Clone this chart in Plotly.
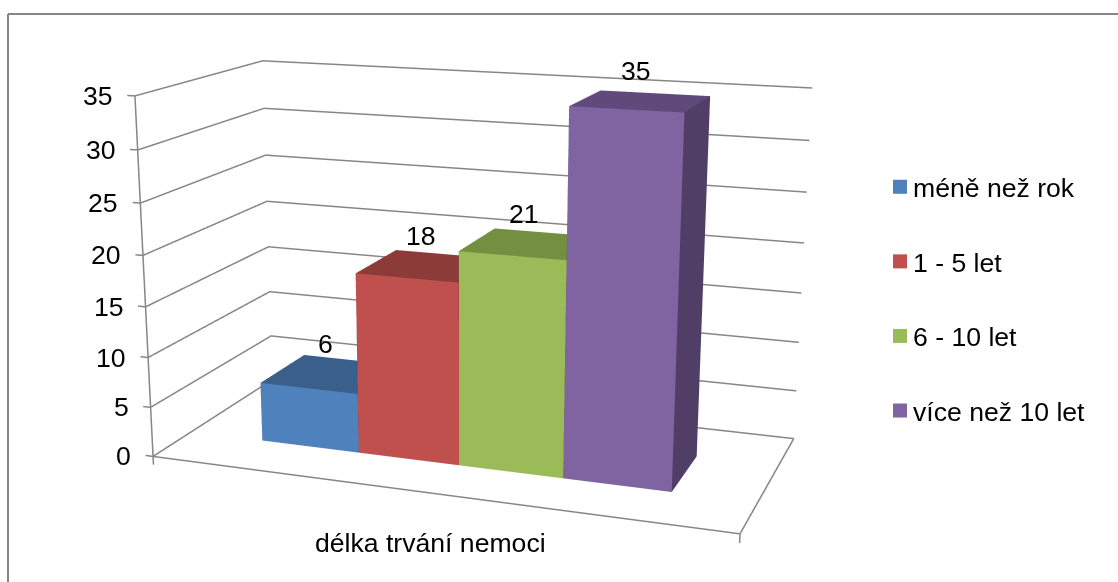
import plotly.graph_objects as go

names = ["méně než rok", "1 - 5 let", "6 - 10 let", "více než 10 let"]
values = [6, 18, 21, 35]
front = ["#4F81BD", "#C0504D", "#9BBB59", "#8064A2"]
top = ["#3A5F8B", "#8D3B39", "#729040", "#604A7B"]
side = ["#325277", "#7A3230", "#627C37", "#503E66"]
zticks = [0, 5, 10, 15, 20, 25, 30, 35]
axis_title = "délka trvání nemoci"

W, PAGE_H = 1118, 582
OFF, FIG_H, SCENE_W = 416, 1490, 938   # the camera needs an off-centre, tall viewport
def px(x): return x / W
def py(y): return 1 - (y + OFF) / FIG_H

X0, BW, Y0, Y1 = 0.1375, 0.1811, 0.2954, 0.6814   # bar block within the floor
GR = "#868686"
SIZE = 26.6
tris = [(0,1,5),(0,5,4),(4,5,6),(4,6,7),(1,2,6),(1,6,5),(0,4,7),(0,7,3),(3,7,6),(3,6,2),(0,1,2),(0,2,3)]

fig = go.Figure()
for i, (n, v) in enumerate(zip(names, values)):
    a, b = X0 + i * BW, X0 + (i + 1) * BW
    fig.add_trace(go.Mesh3d(
        x=[a,b,b,a,a,b,b,a], y=[Y0,Y0,Y1,Y1,Y0,Y0,Y1,Y1], z=[0,0,0,0,v,v,v,v],
        i=[t[0] for t in tris], j=[t[1] for t in tris], k=[t[2] for t in tris],
        facecolor=[front[i]]*2 + [top[i]]*2 + [side[i]]*8, flatshading=True,
        lighting=dict(ambient=1, diffuse=0, specular=0, fresnel=0, roughness=1),
        hoverinfo="skip", showscale=False, showlegend=False))
    fig.add_trace(go.Scatter(x=[None], y=[None], mode="markers", name=n, legendgroup=n,
                             marker=dict(symbol="square", size=14, color=front[i])))

# walls, floor edge and tick marks
lx, ly, lz = [], [], []
def seg(xs, ys, zs):
    lx.extend(xs + [None]); ly.extend(ys + [None]); lz.extend(zs + [None])
for t in zticks:
    seg([-0.014, 0, 0, 1], [0, 0, 1, 1], [t, t, t, t])
seg([0, 0], [0, 0], [zticks[0], zticks[-1]])
seg([0, 1, 1], [0, 0, 1], [0, 0, 0])
seg([0, 0], [0, 0], [0, -0.85])
seg([1, 1], [0, 0], [0, -0.85])
fig.add_trace(go.Scatter3d(x=lx, y=ly, z=lz, mode="lines", line=dict(color=GR, width=3),
                           hoverinfo="skip", showlegend=False))

ann = [dict(x=0, y=0, z=t, text=str(t), showarrow=False, xanchor="right", xshift=-20,
            font=dict(size=SIZE)) for t in zticks]
ann += [dict(x=X0 + (i + .5) * BW, y=(Y0 + Y1) / 2, z=v, text=str(v), showarrow=False,
             xshift=-5, yshift=30, font=dict(size=SIZE)) for i, v in enumerate(values)]
off = dict(showbackground=False, showspikes=False, zeroline=False, showticklabels=False,
           showgrid=False, showline=False, ticks="", title="")
fig.update_layout(
    width=W, height=FIG_H, margin=dict(l=0, r=0, t=0, b=0),
    paper_bgcolor="white", plot_bgcolor="rgba(0,0,0,0)",
    font=dict(family="Liberation Sans, Arial", color="black"),
    xaxis=dict(visible=False), yaxis=dict(visible=False),
    showlegend=True,
    legend=dict(x=px(873), y=py(163), xanchor="left", yanchor="top", font=dict(size=SIZE),
                tracegroupgap=37, bgcolor="rgba(0,0,0,0)"),
    scene=dict(
        domain=dict(x=[0, SCENE_W / W], y=[0, 1]),
        aspectmode="manual",
        aspectratio=dict(x=0.7599 * 1.1, y=0.3490 * 1.1, z=0.4632 * 39 / 35),
        camera=dict(eye=dict(x=0.7379, y=-2.0807, z=0.5555),
                    center=dict(x=0.0305, y=-0.1195, z=-0.0367),
                    up=dict(x=-0.2511, y=0.6938, z=1),
                    projection=dict(type="perspective")),
        xaxis=dict(range=[-0.05, 1.05], **off),
        yaxis=dict(range=[-0.05, 1.05], **off),
        zaxis=dict(range=[-2, 37], **off),
        annotations=ann),
    annotations=[dict(x=px(430), y=py(543), xref="paper", yref="paper", text=axis_title,
                      showarrow=False, font=dict(size=SIZE))],
    shapes=[dict(type="line", xref="paper", yref="paper", x0=px(8), x1=1, y0=py(14), y1=py(14), line=dict(color=GR, width=2)),
            dict(type="line", xref="paper", yref="paper", x0=px(8), x1=px(8), y0=py(14), y1=py(582), line=dict(color=GR, width=2))])
fig.write_html("out.html", config=dict(displayModeBar=False),
    post_script="document.documentElement.style.overflow='hidden';document.body.style.margin='0';"
                "document.body.style.overflow='hidden';"
                "document.getElementById('{plot_id}').style.marginTop='-%dpx';"
                "setTimeout(function(){document.querySelectorAll('.legendsymbols').forEach(function(g){g.setAttribute('transform','translate(7,0)');});},50);" % OFF)
